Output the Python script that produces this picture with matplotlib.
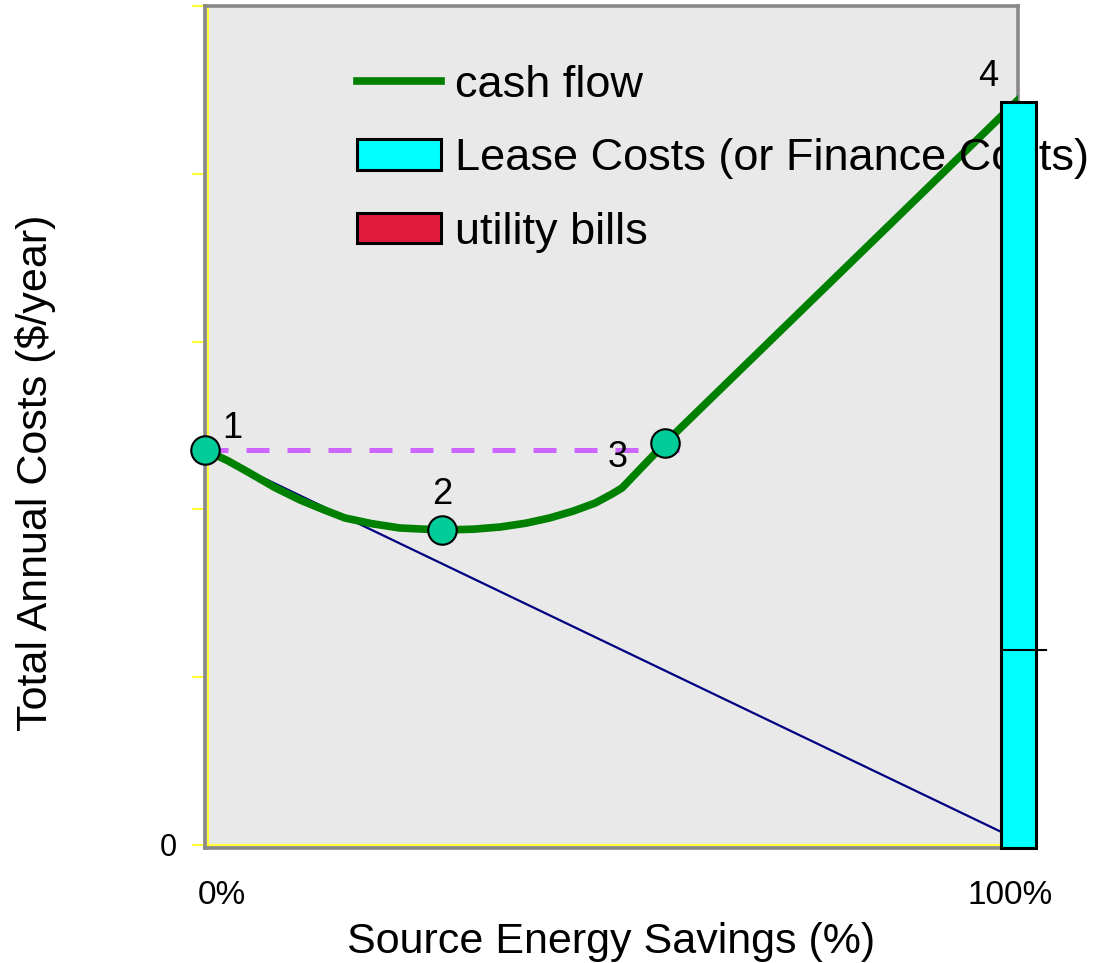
import matplotlib.pyplot as plt
import numpy as np
from matplotlib.lines import Line2D
from matplotlib.patches import Patch

plt.rcParams['font.family'] = ['Liberation Sans', 'DejaVu Sans']

## data (x in % savings, y in arbitrary cost units)
cash_x = [0, 2.8, 5.5, 8.6, 11.7, 14.5, 17.2, 20.5, 24.0, 29.2, 33.0, 36.3,
          39.5, 42.4, 45.3, 48.0, 50.0, 51.3, 56.6, 100]
cash_y = [2.354, 2.29, 2.217, 2.13, 2.056, 2.0, 1.949, 1.915, 1.889, 1.877,
          1.882, 1.895, 1.918, 1.949, 1.99, 2.038, 2.09, 2.128, 2.396, 4.44]
bills_x = [0, 100]
bills_y = [2.354, 0.03]
ref_x = [0, 60.5]          # dashed "break even" level
ref_y = [2.354, 2.354]
pts_x = [0, 29.2, 56.6]
pts_y = [2.354, 1.877, 2.396]
pt_labels = ['1', '2', '3', '4']
lab_x = [3.3, 29.2, 50.7, 96.3]
lab_y = [2.485, 2.086, 2.312, 4.577]
lease_x = [100]
lease_top = [4.43]
lease_mark = 1.162
yticks = [0, 1, 2, 3, 4, 5]
ytick_labels = ['0', '', '', '', '', '']
xtick_labels = ['0%', '100%']

fig = plt.figure(figsize=(10.95, 9.63), dpi=100)
ax = fig.add_axes([0.1872, 0.1194, 0.7425, 0.8744])
ax.set_facecolor('#e9e9e9')
ax.set_xlim(0, 100)
ax.set_ylim(-0.018, 5.0)
for s in ax.spines.values():
    s.set_color('#888888')
    s.set_linewidth(2.6)

# yellow axis lines inside the frame
ax.axvline(0.37, color='#ffff33', lw=1.5, zorder=1)
ax.axhline(0, color='#ffff33', lw=1.5, zorder=1)
ax.set_yticks(yticks)
ax.set_yticklabels(ytick_labels, fontsize=22)
ax.tick_params(axis='y', length=9.5, width=1.5, color='#ffff33', pad=11)
ax.set_xticks([2.1, 99])
ax.set_xticklabels(xtick_labels, fontsize=24)
ax.tick_params(axis='x', length=0, pad=23)

ax.plot(bills_x, bills_y, color='#000080', lw=1.6, zorder=2)
ax.plot(ref_x, ref_y, color='#cc66ff', lw=3.6, dashes=(4.6, 3.6), zorder=2)
ax.plot(cash_x, cash_y, color='#008000', lw=5.5, zorder=3, solid_joinstyle='round')
ax.plot(pts_x, pts_y, 'o', ms=20.5, mfc='#00cc99', mec='black', mew=1.5,
        zorder=8, clip_on=False)
for t, x, y in zip(pt_labels, lab_x, lab_y):
    ax.text(x, y, t, fontsize=26, ha='center', va='center', zorder=8)

ax.bar(lease_x, [lt + 0.018 for lt in lease_top], bottom=-0.018, width=4.3,
       color='#00ffff', edgecolor='black', lw=2.2, zorder=6, clip_on=False)
ax.plot([98.2, 103.4], [lease_mark, lease_mark], color='black', lw=1.5,
        zorder=7, clip_on=False)

handles = [Line2D([], [], color='#008000', lw=5.5),
           Patch(facecolor='#00ffff', edgecolor='black', lw=2.2),
           Patch(facecolor='#e01b3c', edgecolor='black', lw=2.2)]
leg = ax.legend(handles, ['cash flow', 'Lease Costs (or Finance Costs)', 'utility bills'],
                loc='upper left', bbox_to_anchor=(0.187, 0.93), frameon=False,
                fontsize=32.5, handlelength=1.86, handleheight=0.66,
                handletextpad=0.31, labelspacing=0.72, borderpad=0,
                borderaxespad=0)
leg.set_zorder(5)

ax.set_xlabel('Source Energy Savings (%)', fontsize=31)
ax.xaxis.set_label_coords(0.5, -0.088)
ax.set_ylabel('Total Annual Costs ($/year)', fontsize=31)
ax.yaxis.set_label_coords(-0.183, 0.445)

fig.savefig('out.png', dpi=100)
